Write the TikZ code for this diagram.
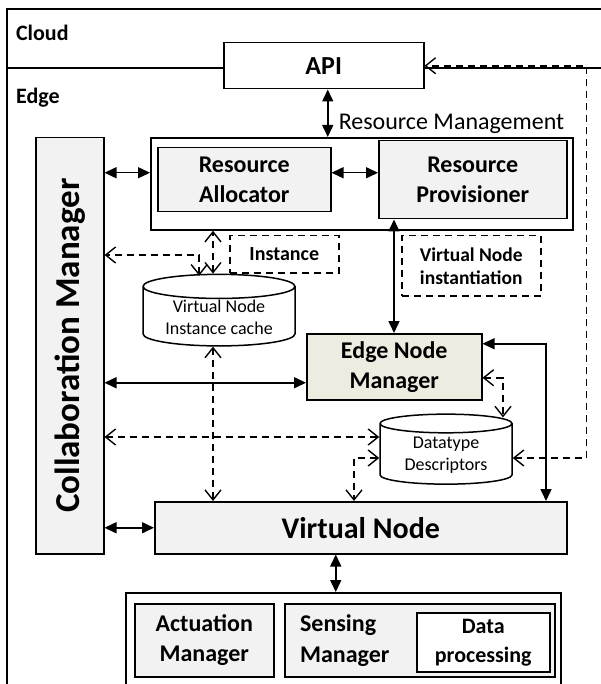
\documentclass[tikz,border=0pt]{standalone}
\usepackage{fontspec}
\setmainfont{Carlito}
\usetikzlibrary{positioning,arrows.meta,calc,shapes.geometric}
\definecolor{boxgray}{RGB}{242,242,242}
\definecolor{enmtan}{RGB}{238,236,225}
\tikzset{vee/.tip={Straight Barb[length=10pt,width=16pt,line width=1.4pt]}}

\begin{document}
\begin{tikzpicture}[x=1pt,y=-1pt,line width=1.5pt,
  >={Triangle[length=12pt,width=11pt]},
  box/.style={draw,fill=boxgray,inner sep=2pt,align=center,anchor=north west,
    font=\fontsize{24}{30}\selectfont\bfseries},
  dbox/.style={draw,dash pattern=on 7pt off 5pt,inner sep=2pt,align=center,
    anchor=north west,font=\fontsize{20}{24}\selectfont\bfseries},
  db/.style={cylinder,shape border rotate=90,draw,fill=white,aspect=0.22,
    inner sep=1pt,align=center,font=\fontsize{18}{22}\selectfont},
  dsh/.style={line width=1.6pt,dash pattern=on 7pt off 5pt,vee-vee},
  lbl/.style={font=\fontsize{22}{26}\selectfont\bfseries,anchor=west}]
  \useasboundingbox (0,0) rectangle (601,684);
  % ---- cloud / edge frame ----
  \draw (7,700) -- (7,9) -- (610,9);
  \draw (7,68) -- (610,68);
  \node[lbl] (cloud) at (12,33) {Cloud};
  \node[lbl] (edge) at (12,98) {Edge};
  \node[draw,fill=white,minimum width=200pt,minimum height=46pt,anchor=north west,
        font=\fontsize{26}{30}\selectfont\bfseries] (api) at (223,42) {API};
  % ---- resource management ----
  \node[draw,line width=1.8pt,minimum width=422pt,minimum height=92pt,
        anchor=north west] (rm) at (150,137) {};
  \node[anchor=base west,font=\fontsize{24}{29}\selectfont,inner sep=0pt]
     (rmlbl) at (338,130) {Resource Management};
  \node[box,minimum width=173pt,minimum height=64pt] (ra) at (157,147)
     {Resource\\Allocator};
  \node[box,minimum width=188pt,minimum height=78pt] (rp) at (378,140)
     {Resource\\Provisioner};
  \node[dbox,minimum width=109pt,minimum height=37pt] (inst) at (229,235)
     {Instance};
  \node[dbox,minimum width=139pt,minimum height=60pt,
        font=\fontsize{19.5}{23}\selectfont\bfseries] (vni) at (401,235)
     {Virtual Node\\instantiation};
  % ---- collaboration manager ----
  \node[box,minimum width=68pt,minimum height=416pt] (cm) at (35,137) {};
  \node[rotate=90,font=\fontsize{35}{40}\selectfont\bfseries] (cmlbl)
     at (cm.center) {Collaboration Manager};
  % ---- stores and managers ----
  \node[db,minimum width=152pt,minimum height=69pt] (vnic) at (219,317.5)
     {Virtual Node\\Instance cache};
  \node[box,fill=enmtan,minimum width=175pt,minimum height=66pt] (enm)
     at (306,333) {Edge Node\\Manager};
  \node[db,minimum width=132pt,minimum height=70pt] (dd) at (446,455)
     {Datatype\\Descriptors};
  \node[box,minimum width=412pt,minimum height=52pt,
        font=\fontsize{30}{34}\selectfont\bfseries] (vn) at (154,501)
     {Virtual Node};
  % ---- device side ----
  \node[draw,line width=1.8pt,minimum width=435pt,minimum height=92pt,
        anchor=north west] (bot) at (125,592) {};
  \node[box,minimum width=139pt,minimum height=73pt] (act) at (134,603)
     {Actuation\\Manager};
  \node[box,minimum width=270pt,minimum height=73pt] (sens) at (284,603) {};
  \node[anchor=west,align=left,font=\fontsize{24}{31}\selectfont\bfseries]
     (senslbl) at ($(sens.west)+(12,0)$) {Sensing\\Manager};
  \node[box,fill=white,minimum width=133pt,minimum height=59pt,
        font=\fontsize{22}{29}\selectfont\bfseries] (dp) at (416,612)
     {Data\\processing};
  % ---- solid links ----
  \draw[<->] ($(api.south)+(4,0)$) coordinate (a1) -- (a1 |- rm.north);
  \draw[<->] ($(ra.east)+(0,-7)$) coordinate (r1) -- (r1 -| rp.west);
  \draw[<->] (cm.east |- r1) -- (rm.west |- r1);
  \draw[<->] ($(rp.south west)+(16,0)$) -- ($(enm.north west)+(88,0)$);
  \draw[<->] ($(enm.west)+(0,16)$) coordinate (e1) -- (cm.east |- e1);
  \draw[<->] ($(enm.east)+(0,-23)$) -| ($(vn.north west)+(392,0)$);
  \draw[<->] (cm.east |- vn) -- (vn.west);
  \draw[<->] ($(vn.south)+(-25,0)$) coordinate (v1) -- (v1 |- bot.north);
  % ---- dashed links ----
  \draw[dsh] ($(vnic.north)+(-6,0)$) coordinate (c1) -- (c1 |- rm.south);
  \draw[dsh] ($(vnic.north west)+(22,0)$) |- (cm.east |- 0,255);
  \draw[dsh] ($(vnic.south)+(-6,0)$) coordinate (c2) -- (c2 |- vn.north);
  \draw[dsh] ($(dd.west)+(0,-18)$) coordinate (d1) -- (cm.east |- d1);
  \draw[dsh] ($(dd.west)+(0,3)$) -| ($(vn.north west)+(200,0)$);
  \draw[dsh] ($(enm.east)+(0,11)$) -| ($(dd.north)+(57,4)$);
  \draw[dsh] ($(dd.east)+(0,3)$) -| ($(api.east)+(162,0)$) -- (api.east);
\end{tikzpicture}
\end{document}
